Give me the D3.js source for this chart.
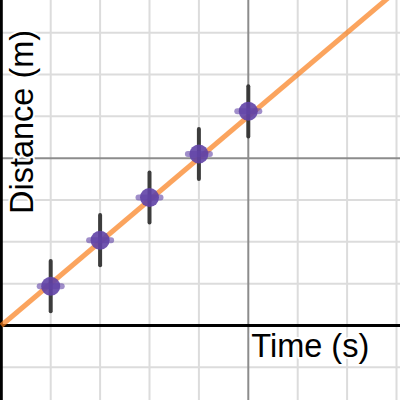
<!DOCTYPE html>
<html><head><meta charset="utf-8">
<script src="https://cdn.jsdelivr.net/npm/d3@7"></script>
<style>html,body{margin:0;padding:0;background:#fff}svg{display:block}</style>
</head><body>
<script>
const times = [1, 2, 3, 4, 5];
const distances = [0.47, 1.02, 1.53, 2.05, 2.56];
const distErrors = [0.3, 0.3, 0.3, 0.3, 0.3];
const fitSlope = 0.5;
const fitIntercept = 0;
const xGridTicks = [1, 2, 3, 4, 5, 6, 7, 8];
const xMajorTicks = [5];
const yGridTicks = [-1, -0.5, 0.5, 1, 1.5, 2, 2.5, 3, 3.5, 4];
const yMajorTicks = [2];
const xLabel = "Time (s)";
const yLabel = "Distance (m)";

const W = 400, H = 400;
const svg = d3.select("body").append("svg").attr("width", W).attr("height", H);
const x = d3.scaleLinear().domain([0, 8]).range([1.3, 1.3 + 8 * 49.4]);
const y = d3.scaleLinear().domain([0, 3.5]).range([325.5, 325.5 - 3.5 * 83.66]);

// grid
const grid = svg.append("g");
grid.selectAll(".vx").data(xGridTicks.filter(d => !xMajorTicks.includes(d))).join("line")
  .attr("x1", d => x(d)).attr("x2", d => x(d)).attr("y1", 0).attr("y2", H)
  .attr("stroke", "#dcdcdc").attr("stroke-width", 2);
grid.selectAll(".hy").data(yGridTicks.filter(d => !yMajorTicks.includes(d))).join("line")
  .attr("y1", d => y(d)).attr("y2", d => y(d)).attr("x1", 0).attr("x2", W)
  .attr("stroke", "#dcdcdc").attr("stroke-width", 2);
grid.selectAll(".vxm").data(xMajorTicks).join("line")
  .attr("x1", d => x(d)).attr("x2", d => x(d)).attr("y1", 0).attr("y2", H)
  .attr("stroke", "#8c8c8c").attr("stroke-width", 2);
grid.selectAll(".hym").data(yMajorTicks).join("line")
  .attr("y1", d => y(d)).attr("y2", d => y(d)).attr("x1", 0).attr("x2", W)
  .attr("stroke", "#8c8c8c").attr("stroke-width", 2);

// axes
svg.append("line").attr("x1", 0).attr("x2", W).attr("y1", y(0)).attr("y2", y(0))
  .attr("stroke", "#000").attr("stroke-width", 3);
svg.append("line").attr("x1", x(0)).attr("x2", x(0)).attr("y1", 0).attr("y2", H)
  .attr("stroke", "#000").attr("stroke-width", 3);

// fit line
const xEnd = x.invert(W);
svg.append("line")
  .attr("x1", x(0)).attr("y1", y(fitIntercept))
  .attr("x2", x(xEnd)).attr("y2", y(fitIntercept + fitSlope * xEnd))
  .attr("stroke", "#fa7e19").attr("stroke-opacity", 0.7).attr("stroke-width", 5);

// error bars
svg.append("g").selectAll("line").data(times).join("line")
  .attr("x1", d => x(d)).attr("x2", d => x(d))
  .attr("y1", (d, i) => y(distances[i] - distErrors[i]))
  .attr("y2", (d, i) => y(distances[i] + distErrors[i]))
  .attr("stroke", "#333").attr("stroke-opacity", 0.95).attr("stroke-width", 4)
  .attr("stroke-linecap", "round");

// points
const pts = svg.append("g");
pts.selectAll("line").data(times).join("line")
  .attr("x1", d => x(d) - 11).attr("x2", d => x(d) + 11)
  .attr("y1", (d, i) => y(distances[i])).attr("y2", (d, i) => y(distances[i]))
  .attr("stroke", "#6042a6").attr("stroke-opacity", 0.6).attr("stroke-width", 6)
  .attr("stroke-linecap", "round");
pts.selectAll("circle").data(times).join("circle")
  .attr("cx", d => x(d)).attr("cy", (d, i) => y(distances[i])).attr("r", 9.5)
  .attr("fill", "#6042a6").attr("fill-opacity", 0.9);

// labels
const lab = svg.append("g").attr("font-family", "Liberation Sans, Arial, sans-serif")
  .attr("font-size", 32.5).attr("fill", "#000")
  .attr("stroke", "#fff").attr("stroke-width", 4).attr("paint-order", "stroke")
  .attr("stroke-linejoin", "round");
lab.append("text").attr("x", x(5) + 3).attr("y", 357).text(xLabel);
lab.append("text").attr("transform", `translate(33,${214}) rotate(-90)`).text(yLabel);
</script>
</body></html>
